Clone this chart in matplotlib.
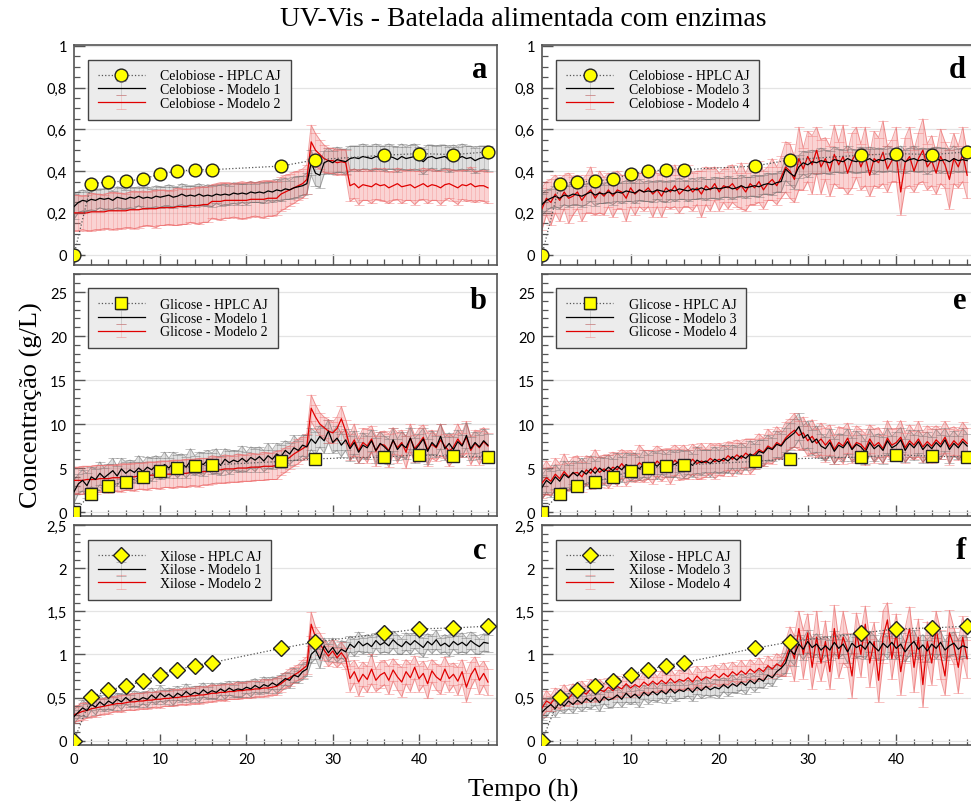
import numpy as np
import matplotlib
matplotlib.use("Agg")
import matplotlib.pyplot as plt
from matplotlib.ticker import MultipleLocator, FuncFormatter

# ---------------- HPLC data ----------------
hplc_time = [0, 2, 4, 6, 8, 10, 12, 14, 16, 24, 28, 36, 40, 44, 48]
hplc_celobiose = [0, 0.34, 0.348, 0.352, 0.362, 0.386, 0.40, 0.406, 0.407, 0.424, 0.454, 0.476, 0.484, 0.479, 0.492]
hplc_glicose = [0, 2.1, 2.95, 3.45, 4.0, 4.65, 5.0, 5.2, 5.35, 5.75, 6.05, 6.25, 6.5, 6.35, 6.25]
hplc_xilose = [0, 0.507, 0.584, 0.634, 0.689, 0.766, 0.824, 0.87, 0.905, 1.07, 1.145, 1.245, 1.296, 1.307, 1.327]

# ---------------- model time (h) ----------------
model_time = np.arange(0, 48.5, 0.5)

# ---------------- Celobiose ----------------
cel_m1 = [0.23,0.25,0.26,0.255,0.265,0.26,0.27,0.265,
          0.27,0.26,0.275,0.27,0.265,0.275,0.27,0.28,
          0.27,0.275,0.27,0.28,0.275,0.28,0.285,0.275,
          0.28,0.29,0.28,0.285,0.28,0.29,0.28,0.285,
          0.28,0.29,0.285,0.29,0.285,0.295,0.29,0.295,
          0.29,0.3,0.295,0.3,0.295,0.305,0.3,0.31,
          0.305,0.315,0.31,0.32,0.325,0.33,0.34,0.44,
          0.39,0.38,0.44,0.45,0.44,0.455,0.45,0.445,
          0.46,0.465,0.46,0.47,0.465,0.46,0.47,0.465,
          0.46,0.47,0.465,0.455,0.47,0.46,0.465,0.47,
          0.46,0.445,0.465,0.47,0.46,0.465,0.47,0.455,
          0.465,0.46,0.47,0.46,0.465,0.45,0.46,0.465,
          0.46]
cel_m1_err = [0.06,0.05,0.05,0.045,0.05,0.05,0.045,0.05,
              0.05,0.045,0.05,0.05,0.045,0.05,0.05,0.045,
              0.05,0.05,0.045,0.05,0.05,0.045,0.05,0.05,
              0.045,0.05,0.05,0.045,0.05,0.05,0.045,0.05,
              0.05,0.045,0.05,0.05,0.045,0.05,0.05,0.045,
              0.05,0.05,0.045,0.05,0.05,0.045,0.05,0.05,
              0.05,0.05,0.045,0.05,0.05,0.045,0.05,0.06,
              0.06,0.06,0.055,0.06,0.055,0.06,0.055,0.06,
              0.06,0.055,0.06,0.06,0.055,0.06,0.06,0.055,
              0.06,0.06,0.055,0.06,0.06,0.055,0.06,0.06,
              0.055,0.06,0.06,0.055,0.06,0.06,0.055,0.06,
              0.06,0.055,0.06,0.06,0.055,0.06,0.06,0.055,
              0.06]
cel_m2 = [0.2,0.2,0.2,0.2,0.205,0.205,0.205,0.205,
          0.21,0.21,0.21,0.21,0.21,0.215,0.215,0.215,
          0.22,0.22,0.22,0.22,0.225,0.225,0.225,0.225,
          0.23,0.23,0.23,0.235,0.235,0.235,0.24,0.24,
          0.255,0.255,0.255,0.26,0.26,0.26,0.26,0.26,
          0.26,0.265,0.265,0.265,0.265,0.27,0.27,0.27,
          0.29,0.3,0.31,0.32,0.33,0.34,0.36,0.54,
          0.5,0.48,0.46,0.45,0.45,0.44,0.445,0.44,
          0.33,0.34,0.32,0.335,0.33,0.325,0.34,0.33,
          0.335,0.32,0.33,0.34,0.325,0.33,0.335,0.32,
          0.33,0.34,0.325,0.335,0.33,0.32,0.335,0.34,
          0.33,0.32,0.335,0.33,0.34,0.325,0.33,0.33,
          0.32]
cel_m2_err = [0.085,0.085,0.08,0.085,0.09,0.085,0.085,0.08,
              0.085,0.09,0.085,0.085,0.08,0.085,0.09,0.085,
              0.085,0.08,0.085,0.09,0.085,0.085,0.08,0.085,
              0.09,0.085,0.085,0.08,0.085,0.09,0.085,0.085,
              0.08,0.085,0.09,0.085,0.085,0.08,0.085,0.09,
              0.085,0.085,0.08,0.085,0.09,0.085,0.085,0.08,
              0.08,0.08,0.075,0.075,0.07,0.07,0.07,0.08,
              0.08,0.07,0.065,0.06,0.06,0.06,0.06,0.06,
              0.075,0.07,0.08,0.075,0.07,0.08,0.075,0.07,
              0.08,0.075,0.07,0.075,0.08,0.07,0.075,0.08,
              0.07,0.075,0.08,0.075,0.07,0.08,0.075,0.07,
              0.075,0.08,0.07,0.075,0.08,0.075,0.07,0.075,
              0.075]
cel_m3 = [0.24,0.26,0.27,0.28,0.27,0.285,0.28,0.29,
          0.285,0.28,0.29,0.3,0.285,0.295,0.29,0.3,
          0.29,0.3,0.295,0.305,0.3,0.295,0.31,0.3,
          0.305,0.3,0.31,0.305,0.3,0.31,0.305,0.315,
          0.31,0.305,0.315,0.31,0.32,0.31,0.315,0.32,
          0.315,0.32,0.325,0.315,0.32,0.33,0.32,0.325,
          0.33,0.325,0.335,0.34,0.335,0.345,0.35,0.41,
          0.39,0.375,0.42,0.44,0.43,0.445,0.44,0.45,
          0.445,0.44,0.455,0.45,0.445,0.46,0.45,0.445,
          0.455,0.45,0.46,0.445,0.455,0.45,0.46,0.455,
          0.45,0.46,0.445,0.455,0.46,0.45,0.455,0.445,
          0.455,0.46,0.45,0.455,0.445,0.46,0.45,0.455,
          0.45]
cel_m3_err = [0.05,0.05,0.045,0.05,0.05,0.045,0.05,0.05,
              0.045,0.05,0.05,0.045,0.05,0.05,0.045,0.05,
              0.05,0.045,0.05,0.05,0.045,0.05,0.05,0.045,
              0.05,0.05,0.045,0.05,0.05,0.045,0.05,0.05,
              0.045,0.05,0.05,0.045,0.05,0.05,0.045,0.05,
              0.05,0.045,0.05,0.05,0.045,0.05,0.05,0.045,
              0.05,0.05,0.045,0.05,0.05,0.045,0.05,0.055,
              0.055,0.06,0.055,0.055,0.06,0.055,0.055,0.06,
              0.055,0.055,0.06,0.055,0.055,0.06,0.055,0.055,
              0.06,0.055,0.055,0.06,0.055,0.055,0.06,0.055,
              0.055,0.06,0.055,0.055,0.06,0.055,0.055,0.06,
              0.055,0.055,0.06,0.055,0.055,0.06,0.055,0.055,
              0.055]
cel_m4 = [0.22,0.27,0.25,0.29,0.26,0.3,0.27,0.28,
          0.3,0.26,0.29,0.31,0.27,0.3,0.28,0.31,
          0.28,0.31,0.3,0.27,0.32,0.29,0.31,0.3,
          0.32,0.29,0.31,0.28,0.32,0.3,0.33,0.29,
          0.31,0.33,0.3,0.32,0.29,0.33,0.31,0.34,
          0.3,0.33,0.32,0.34,0.31,0.33,0.3,0.34,
          0.32,0.35,0.31,0.34,0.36,0.33,0.37,0.42,
          0.4,0.36,0.46,0.41,0.47,0.43,0.5,0.42,
          0.46,0.4,0.48,0.43,0.47,0.39,0.45,0.49,
          0.42,0.47,0.38,0.46,0.44,0.49,0.41,0.45,
          0.48,0.3,0.44,0.47,0.4,0.46,0.5,0.42,
          0.45,0.39,0.47,0.43,0.36,0.46,0.42,0.48,
          0.38]
cel_m4_err = [0.1,0.08,0.11,0.09,0.1,0.08,0.12,0.09,
              0.08,0.1,0.09,0.11,0.08,0.1,0.09,0.08,
              0.1,0.09,0.08,0.11,0.09,0.1,0.08,0.09,
              0.09,0.11,0.08,0.1,0.09,0.08,0.1,0.09,
              0.08,0.1,0.09,0.08,0.11,0.09,0.1,0.08,
              0.09,0.08,0.1,0.09,0.08,0.11,0.09,0.1,
              0.08,0.1,0.09,0.08,0.1,0.09,0.1,0.12,
              0.13,0.11,0.15,0.1,0.12,0.14,0.11,0.13,
              0.1,0.12,0.14,0.11,0.15,0.1,0.13,0.12,
              0.11,0.14,0.1,0.13,0.12,0.15,0.11,0.1,
              0.13,0.11,0.12,0.14,0.1,0.12,0.15,0.11,
              0.12,0.1,0.13,0.11,0.14,0.12,0.1,0.13,
              0.11]

# ---------------- Glicose ----------------
gli_m1 = [2.3,3.2,3.6,3.0,4.0,3.7,4.4,3.9,
          4.3,4.7,4.1,4.9,4.4,4.8,4.5,5.0,
          4.6,5.1,4.8,5.3,4.9,5.4,5.0,5.6,
          5.2,5.5,5.1,5.8,5.3,5.6,5.4,5.9,
          5.5,5.8,5.3,6.0,5.6,5.9,5.7,6.1,
          5.7,6.2,5.9,6.3,5.8,6.4,6.0,6.6,
          6.3,7.0,6.6,7.3,7.0,7.6,7.4,8.3,
          7.8,8.6,8.1,9.2,7.9,8.4,7.6,8.2,
          7.2,7.9,6.8,7.6,7.3,8.1,7.0,7.8,
          7.4,6.9,8.2,7.1,7.7,7.3,8.4,7.0,
          7.6,8.3,6.9,7.9,7.4,8.6,7.2,7.8,
          7.1,8.0,7.5,8.7,7.2,7.9,7.4,8.1,
          7.6]
gli_m1_err = [1.3,1.1,1.2,1.4,1.1,1.2,1.3,1.1,
              1.2,1.4,1.1,1.2,1.3,1.1,1.2,1.4,
              1.1,1.2,1.3,1.1,1.2,1.4,1.1,1.2,
              1.3,1.1,1.2,1.4,1.1,1.2,1.3,1.1,
              1.2,1.4,1.1,1.2,1.3,1.1,1.2,1.4,
              1.1,1.2,1.3,1.1,1.2,1.4,1.1,1.2,
              1.3,1.1,1.2,1.4,1.1,1.2,1.3,1.2,
              1.3,1.2,1.4,1.3,1.2,1.4,1.3,1.2,
              1.4,1.3,1.2,1.4,1.3,1.2,1.4,1.3,
              1.2,1.4,1.3,1.2,1.4,1.3,1.2,1.4,
              1.3,1.2,1.4,1.3,1.2,1.4,1.3,1.2,
              1.4,1.3,1.2,1.4,1.3,1.2,1.4,1.3,
              1.3]
gli_m2 = [3.6,3.6,3.6,3.7,3.7,3.7,3.8,3.8,
          3.8,3.9,3.9,3.9,4.0,4.0,4.0,4.1,
          4.1,4.1,4.2,4.2,4.2,4.3,4.3,4.3,
          4.4,4.4,4.4,4.5,4.5,4.5,4.6,4.6,
          4.8,4.8,4.8,4.9,4.9,4.9,5.0,5.0,
          5.0,5.1,5.1,5.1,5.2,5.2,5.2,5.3,
          5.6,5.9,6.2,6.6,6.9,7.2,7.5,11.8,
          10.8,10.0,9.6,9.2,9.0,9.5,10.6,9.2,
          7.4,8.2,7.0,7.9,7.5,8.3,6.9,7.7,
          7.6,7.0,8.1,7.3,7.9,6.8,8.4,7.2,
          7.8,8.5,7.1,7.7,7.3,8.2,7.5,6.9,
          7.4,8.3,7.6,8.5,7.0,7.8,7.3,8.0,
          7.5]
gli_m2_err = [1.5,1.5,1.6,1.5,1.5,1.6,1.5,1.5,
              1.6,1.5,1.5,1.6,1.5,1.5,1.6,1.5,
              1.5,1.6,1.5,1.5,1.6,1.5,1.5,1.6,
              1.5,1.5,1.6,1.5,1.5,1.6,1.5,1.5,
              1.6,1.5,1.5,1.6,1.5,1.5,1.6,1.5,
              1.5,1.6,1.5,1.5,1.6,1.5,1.5,1.6,
              1.4,1.4,1.3,1.4,1.4,1.3,1.4,1.5,
              1.4,1.3,1.2,1.3,1.2,1.3,1.4,1.3,
              1.5,1.8,1.4,1.6,1.9,1.5,1.7,1.4,
              1.6,1.9,1.5,1.7,1.4,1.8,1.6,1.5,
              1.7,1.4,1.9,1.6,1.5,1.8,1.4,1.7,
              1.5,1.7,1.4,1.8,1.6,1.5,1.9,1.6,
              1.5]
gli_m3 = [2.8,3.6,3.2,4.0,3.5,4.3,3.9,4.5,
          4.1,4.7,4.3,4.9,4.4,5.0,4.6,5.1,
          4.7,5.2,4.8,5.4,5.0,5.3,4.9,5.5,
          5.1,5.6,5.2,5.7,5.3,5.5,5.4,5.8,
          5.4,5.7,5.3,5.9,5.6,5.8,5.5,6.0,
          5.7,6.1,5.8,6.3,5.9,6.4,6.1,6.6,
          6.3,6.9,6.7,7.3,7.1,7.7,7.5,8.2,
          8.6,9.0,9.7,8.4,8.8,7.9,8.3,7.5,
          7.2,7.9,6.9,7.6,7.3,8.0,7.1,7.7,
          7.4,6.8,7.9,7.2,7.6,7.0,8.1,7.3,
          7.6,8.2,7.0,7.8,7.3,8.0,7.1,7.7,
          7.2,7.9,7.4,8.2,7.1,7.8,7.3,8.0,
          7.5]
gli_m3_err = [1.4,1.3,1.5,1.4,1.3,1.5,1.4,1.3,
              1.5,1.4,1.3,1.5,1.4,1.3,1.5,1.4,
              1.3,1.5,1.4,1.3,1.5,1.4,1.3,1.5,
              1.4,1.3,1.5,1.4,1.3,1.5,1.4,1.3,
              1.5,1.4,1.3,1.5,1.4,1.3,1.5,1.4,
              1.3,1.5,1.4,1.3,1.5,1.4,1.3,1.5,
              1.4,1.3,1.5,1.4,1.3,1.5,1.4,1.4,
              1.5,1.6,1.5,1.4,1.5,1.4,1.5,1.4,
              1.3,1.5,1.4,1.3,1.5,1.4,1.3,1.5,
              1.4,1.3,1.5,1.4,1.3,1.5,1.4,1.3,
              1.5,1.4,1.3,1.5,1.4,1.3,1.5,1.4,
              1.3,1.5,1.4,1.3,1.5,1.4,1.3,1.5,
              1.4]
gli_m4 = [3.3,3.9,3.5,4.3,3.8,4.6,4.0,4.4,
          4.5,4.0,4.8,4.4,5.1,4.5,4.9,4.6,
          5.1,4.8,5.5,4.9,5.3,5.0,5.6,5.2,
          5.4,5.1,5.8,5.3,5.6,5.2,5.9,5.4,
          5.7,5.4,6.0,5.5,5.8,5.6,6.1,5.7,
          6.0,5.8,6.4,6.0,6.5,6.1,6.7,6.3,
          6.6,7.1,6.8,7.5,7.2,7.9,7.6,8.4,
          8.9,9.3,8.7,9.0,8.1,8.6,7.8,8.3,
          7.6,8.2,7.1,7.9,7.5,8.4,7.2,7.9,
          7.7,7.1,8.3,7.5,7.9,7.2,8.4,7.6,
          7.9,8.5,7.3,8.1,7.6,8.3,7.4,8.0,
          7.5,8.2,7.7,8.5,7.4,8.1,7.6,8.3,
          7.8]
gli_m4_err = [1.7,1.9,1.6,1.8,1.7,2.0,1.6,1.8,
              1.9,1.7,1.6,1.8,2.0,1.7,1.6,1.9,
              1.7,1.8,1.6,1.9,1.7,1.6,2.0,1.8,
              1.6,1.9,1.7,1.8,1.6,2.0,1.7,1.8,
              1.9,1.6,1.7,1.8,2.0,1.6,1.7,1.9,
              1.8,1.7,1.6,1.9,1.7,1.8,1.6,2.0,
              1.7,1.8,1.6,1.9,1.7,1.8,1.6,1.8,
              1.7,1.9,1.6,1.8,1.7,1.9,1.6,1.8,
              1.9,1.7,1.6,1.8,2.0,1.7,1.6,1.9,
              1.7,1.8,1.6,1.9,1.7,1.6,2.0,1.8,
              1.6,1.9,1.7,1.8,1.6,2.0,1.7,1.8,
              1.9,1.6,1.7,1.8,2.0,1.6,1.7,1.9,
              1.7]

# ---------------- Xilose ----------------
xil_m1 = [0.28,0.33,0.38,0.35,0.42,0.39,0.45,0.41,
          0.46,0.43,0.48,0.45,0.5,0.46,0.49,0.47,
          0.5,0.48,0.53,0.49,0.55,0.51,0.54,0.5,
          0.55,0.52,0.57,0.53,0.56,0.54,0.59,0.55,
          0.58,0.56,0.6,0.57,0.61,0.58,0.6,0.59,
          0.62,0.6,0.64,0.61,0.65,0.63,0.67,0.64,
          0.68,0.72,0.7,0.76,0.74,0.8,0.83,1.0,
          1.05,0.95,1.1,1.02,1.08,1.0,1.06,1.03,
          1.12,1.08,1.15,1.1,1.13,1.09,1.16,1.11,
          1.14,1.1,1.17,1.12,1.09,1.15,1.11,1.16,
          1.12,1.08,1.15,1.11,1.17,1.1,1.13,1.09,
          1.15,1.11,1.14,1.1,1.16,1.12,1.09,1.14,
          1.13]
xil_m1_err = [0.08,0.07,0.09,0.08,0.07,0.09,0.08,0.07,
              0.09,0.08,0.07,0.09,0.08,0.07,0.09,0.08,
              0.07,0.09,0.08,0.07,0.09,0.08,0.07,0.09,
              0.08,0.07,0.09,0.08,0.07,0.09,0.08,0.07,
              0.09,0.08,0.07,0.09,0.08,0.07,0.09,0.08,
              0.07,0.09,0.08,0.07,0.09,0.08,0.07,0.09,
              0.08,0.07,0.09,0.08,0.07,0.09,0.08,0.1,
              0.1,0.11,0.09,0.1,0.11,0.09,0.1,0.11,
              0.09,0.1,0.11,0.09,0.1,0.11,0.09,0.1,
              0.11,0.09,0.1,0.11,0.09,0.1,0.11,0.09,
              0.1,0.11,0.09,0.1,0.11,0.09,0.1,0.11,
              0.09,0.1,0.11,0.09,0.1,0.11,0.09,0.1,
              0.1]
xil_m2 = [0.3,0.32,0.34,0.35,0.37,0.38,0.39,0.4,
          0.41,0.42,0.43,0.43,0.44,0.45,0.45,0.46,
          0.46,0.47,0.47,0.48,0.48,0.49,0.49,0.5,
          0.5,0.51,0.51,0.52,0.52,0.53,0.53,0.54,
          0.55,0.55,0.56,0.56,0.57,0.57,0.58,0.58,
          0.59,0.59,0.6,0.6,0.61,0.61,0.62,0.63,
          0.66,0.7,0.73,0.76,0.79,0.83,0.87,1.35,
          1.2,1.12,1.05,0.98,1.04,0.96,1.02,0.95,
          0.72,0.8,0.68,0.77,0.71,0.83,0.7,0.76,
          0.79,0.7,0.82,0.74,0.68,0.8,0.73,0.85,
          0.72,0.78,0.66,0.81,0.74,0.7,0.83,0.72,
          0.77,0.69,0.8,0.62,0.76,0.84,0.7,0.78,
          0.68]
xil_m2_err = [0.09,0.09,0.1,0.09,0.09,0.1,0.09,0.09,
              0.1,0.09,0.09,0.1,0.09,0.09,0.1,0.09,
              0.09,0.1,0.09,0.09,0.1,0.09,0.09,0.1,
              0.09,0.09,0.1,0.09,0.09,0.1,0.09,0.09,
              0.1,0.09,0.09,0.1,0.09,0.09,0.1,0.09,
              0.09,0.1,0.09,0.09,0.1,0.09,0.09,0.1,
              0.09,0.09,0.1,0.09,0.09,0.1,0.1,0.14,
              0.12,0.13,0.11,0.12,0.13,0.11,0.12,0.12,
              0.15,0.13,0.16,0.14,0.15,0.17,0.13,0.15,
              0.14,0.16,0.13,0.15,0.17,0.14,0.16,0.13,
              0.15,0.14,0.17,0.13,0.15,0.16,0.14,0.15,
              0.13,0.16,0.14,0.17,0.15,0.13,0.16,0.14,
              0.15]
xil_m3 = [0.33,0.38,0.42,0.37,0.45,0.4,0.46,0.42,
          0.47,0.43,0.49,0.45,0.5,0.44,0.51,0.47,
          0.49,0.53,0.48,0.55,0.5,0.54,0.49,0.56,
          0.52,0.57,0.53,0.58,0.54,0.6,0.55,0.59,
          0.57,0.61,0.56,0.62,0.58,0.63,0.59,0.62,
          0.6,0.65,0.61,0.66,0.63,0.68,0.64,0.7,
          0.66,0.72,0.69,0.76,0.73,0.8,0.84,0.9,
          1.05,1.0,1.12,1.06,1.15,1.08,1.12,1.05,
          1.1,1.05,1.14,1.07,1.12,1.03,1.13,1.08,
          1.11,1.06,1.15,1.09,1.04,1.13,1.08,1.14,
          1.07,1.12,1.03,1.1,1.15,1.06,1.11,1.04,
          1.12,1.07,1.14,1.05,1.1,1.13,1.06,1.1,
          1.08]
xil_m3_err = [0.09,0.1,0.08,0.09,0.1,0.08,0.09,0.1,
              0.08,0.09,0.1,0.08,0.09,0.1,0.08,0.09,
              0.1,0.08,0.09,0.1,0.08,0.09,0.1,0.08,
              0.09,0.1,0.08,0.09,0.1,0.08,0.09,0.1,
              0.08,0.09,0.1,0.08,0.09,0.1,0.08,0.09,
              0.1,0.08,0.09,0.1,0.08,0.09,0.1,0.08,
              0.09,0.1,0.08,0.09,0.1,0.08,0.09,0.12,
              0.12,0.13,0.11,0.12,0.13,0.11,0.12,0.13,
              0.11,0.12,0.13,0.11,0.12,0.13,0.11,0.12,
              0.13,0.11,0.12,0.13,0.11,0.12,0.13,0.11,
              0.12,0.13,0.11,0.12,0.13,0.11,0.12,0.13,
              0.11,0.12,0.13,0.11,0.12,0.13,0.11,0.12,
              0.12]
xil_m4 = [0.38,0.46,0.43,0.5,0.47,0.53,0.49,0.55,
          0.52,0.57,0.54,0.6,0.55,0.59,0.57,0.62,
          0.58,0.63,0.6,0.66,0.61,0.65,0.62,0.68,
          0.64,0.69,0.65,0.7,0.66,0.72,0.67,0.71,
          0.69,0.73,0.68,0.75,0.7,0.74,0.72,0.77,
          0.73,0.78,0.74,0.8,0.76,0.81,0.77,0.83,
          0.79,0.84,0.8,0.87,0.83,0.89,0.86,0.95,
          1.1,0.95,1.3,1.0,1.25,0.85,1.2,0.9,
          1.15,0.8,1.3,0.95,1.2,1.05,0.75,1.25,
          1.0,1.35,0.9,1.15,0.7,1.2,1.4,0.95,
          1.25,0.8,1.1,1.3,0.85,1.2,0.65,1.15,
          0.9,1.3,1.0,0.75,1.25,1.1,0.85,1.2,
          0.95]
xil_m4_err = [0.1,0.12,0.09,0.11,0.1,0.12,0.09,0.11,
              0.1,0.12,0.09,0.11,0.1,0.12,0.09,0.11,
              0.1,0.12,0.09,0.11,0.1,0.12,0.09,0.11,
              0.1,0.12,0.09,0.11,0.1,0.12,0.09,0.11,
              0.1,0.12,0.09,0.11,0.1,0.12,0.09,0.11,
              0.1,0.12,0.09,0.11,0.1,0.12,0.09,0.11,
              0.1,0.12,0.09,0.11,0.1,0.12,0.11,0.2,
              0.22,0.26,0.2,0.28,0.22,0.25,0.3,0.21,
              0.24,0.2,0.27,0.22,0.3,0.2,0.25,0.23,
              0.26,0.21,0.28,0.22,0.25,0.3,0.2,0.24,
              0.22,0.27,0.2,0.25,0.29,0.21,0.26,0.23,
              0.25,0.2,0.28,0.22,0.26,0.21,0.3,0.24,
              0.22]

# ---------------- styling ----------------
SERIF = "Liberation Serif"
SANS = "Lato"
W, H = 971, 803
fig = plt.figure(figsize=(W / 100, H / 100), dpi=100)

def comma(v, pos):
    s = f"{v:g}"
    return s.replace(".", ",")

col_x = [(74, 422.6), (542, 434)]
rows = [(45.7, 265.7), (275, 517), (526, 746)]
ylims = [(-0.048, 1.005), (-0.45, 27.05), (-0.05, 2.5)]
ymaj = [0.2, 5, 0.5]
ymin = [0.05, 1, 0.1]

panels = [
    (0, 0, "a", "Celobiose", hplc_celobiose, "o", cel_m1, cel_m1_err, cel_m2, cel_m2_err, "Modelo 1", "Modelo 2"),
    (1, 0, "b", "Glicose", hplc_glicose, "s", gli_m1, gli_m1_err, gli_m2, gli_m2_err, "Modelo 1", "Modelo 2"),
    (2, 0, "c", "Xilose", hplc_xilose, "D", xil_m1, xil_m1_err, xil_m2, xil_m2_err, "Modelo 1", "Modelo 2"),
    (0, 1, "d", "Celobiose", hplc_celobiose, "o", cel_m3, cel_m3_err, cel_m4, cel_m4_err, "Modelo 3", "Modelo 4"),
    (1, 1, "e", "Glicose", hplc_glicose, "s", gli_m3, gli_m3_err, gli_m4, gli_m4_err, "Modelo 3", "Modelo 4"),
    (2, 1, "f", "Xilose", hplc_xilose, "D", xil_m3, xil_m3_err, xil_m4, xil_m4_err, "Modelo 3", "Modelo 4"),
]
msize = {"o": 9.2, "s": 8.8, "D": 8.6}

for (r, c, letter, sp, hplc, mk, mb, eb_, mr, er_, lb, lr) in panels:
    x0, w = col_x[c]
    top, bot = rows[r]
    ax = fig.add_axes([x0 / W, 1 - bot / H, w / W, (bot - top) / H])
    t = model_time
    mb = np.array(mb); eb_ = np.array(eb_)
    mr = np.array(mr); er_ = np.array(er_)

    # bands
    ax.fill_between(t, mb - eb_, mb + eb_, color="#8c8c8c", alpha=0.28, lw=0, zorder=1)
    ax.fill_between(t, mr - er_, mr + er_, color="#f07070", alpha=0.3, lw=0, zorder=1.1)
    for sgn in (-1, 1):
        ax.plot(t, mb + sgn * eb_, color="#505050", lw=0.7, alpha=0.45, zorder=1.5)
        ax.plot(t, mr + sgn * er_, color="#e03030", lw=0.7, alpha=0.45, zorder=1.6)

    ebk = ax.errorbar(t, mb, yerr=eb_, color="black", lw=0.9, ecolor="#707070",
                      elinewidth=0.6, capsize=3.5, capthick=0.6, zorder=2,
                      label=f"{sp} - {lb}")
    ebr = ax.errorbar(t, mr, yerr=er_, color="#e00000", lw=0.9, ecolor="#f07070",
                      elinewidth=0.6, capsize=3.5, capthick=0.6, zorder=2.1,
                      label=f"{sp} - {lr}")
    for cont, zl in ((ebk, 3.5), (ebr, 3)):
        cont.lines[0].set_zorder(zl)
        for cap in cont.lines[1]:
            cap.set_alpha(0.5)
        for bl in cont.lines[2]:
            bl.set_alpha(0.3)

    hl, = ax.plot(hplc_time, hplc, ls=":", color="#555555", lw=0.9, marker=mk,
                  ms=msize[mk], mfc="#ffff00", mec="#222222", mew=1.0, zorder=5,
                  label=f"{sp} - HPLC AJ")

    ax.set_xlim(0, 49)
    ax.set_ylim(*ylims[r])
    ax.xaxis.set_major_locator(MultipleLocator(10))
    ax.xaxis.set_minor_locator(MultipleLocator(2))
    ax.yaxis.set_major_locator(MultipleLocator(ymaj[r]))
    ax.yaxis.set_minor_locator(MultipleLocator(ymin[r]))
    ax.yaxis.set_major_formatter(FuncFormatter(comma))
    ax.xaxis.set_major_formatter(FuncFormatter(comma))
    ax.tick_params(which="both", direction="in", top=False, right=False, color="#555555")
    ax.tick_params(which="major", length=8, width=1.0)
    ax.tick_params(which="minor", length=4.5, width=0.9)
    ax.tick_params(axis="both", labelsize=10.5, pad=5)
    for lab in ax.get_xticklabels() + ax.get_yticklabels():
        lab.set_fontfamily(SANS)
    if r != 2:
        ax.tick_params(axis="x", labelbottom=False)
    ax.yaxis.grid(True, which="major", color="#e4e4e4", lw=0.9)
    ax.set_axisbelow(True)
    for s in ax.spines.values():
        s.set_color("#555555")
        s.set_linewidth(1.2)

    leg = ax.legend(handles=[hl, ebk, ebr], loc="upper left",
                    bbox_to_anchor=(0.033, 1 - (15 if r != 1 else 14.3) / (bot - top)),
                    borderaxespad=0, prop={"family": SERIF, "size": 10},
                    handlelength=3.4, handletextpad=1.1, labelspacing=0.05,
                    borderpad=0.7, fancybox=False, framealpha=1,
                    facecolor="#ececec", edgecolor="#444444")
    leg.get_frame().set_linewidth(1.0)
    leg.set_zorder(10)

    ax.text(0.977, 1 - 32.6 / (bot - top) if r != 1 else 1 - 34.3 / (bot - top), letter,
            transform=ax.transAxes, ha="right", va="baseline",
            fontfamily=SERIF, fontweight="bold", fontsize=22, zorder=11)

fig.text(523 / W, 1 - 19 / H, "UV-Vis - Batelada alimentada com enzimas",
         ha="center", va="center", fontfamily=SERIF, fontsize=20)
fig.text(31 / W, 1 - 405 / H, "Concentração (g/L)", rotation=90,
         ha="center", va="center", fontfamily=SERIF, fontsize=19)
fig.text(523 / W, 1 - 797 / H, "Tempo (h)", ha="center", va="baseline",
         fontfamily=SERIF, fontsize=19)

fig.savefig("out.png", dpi=100)
